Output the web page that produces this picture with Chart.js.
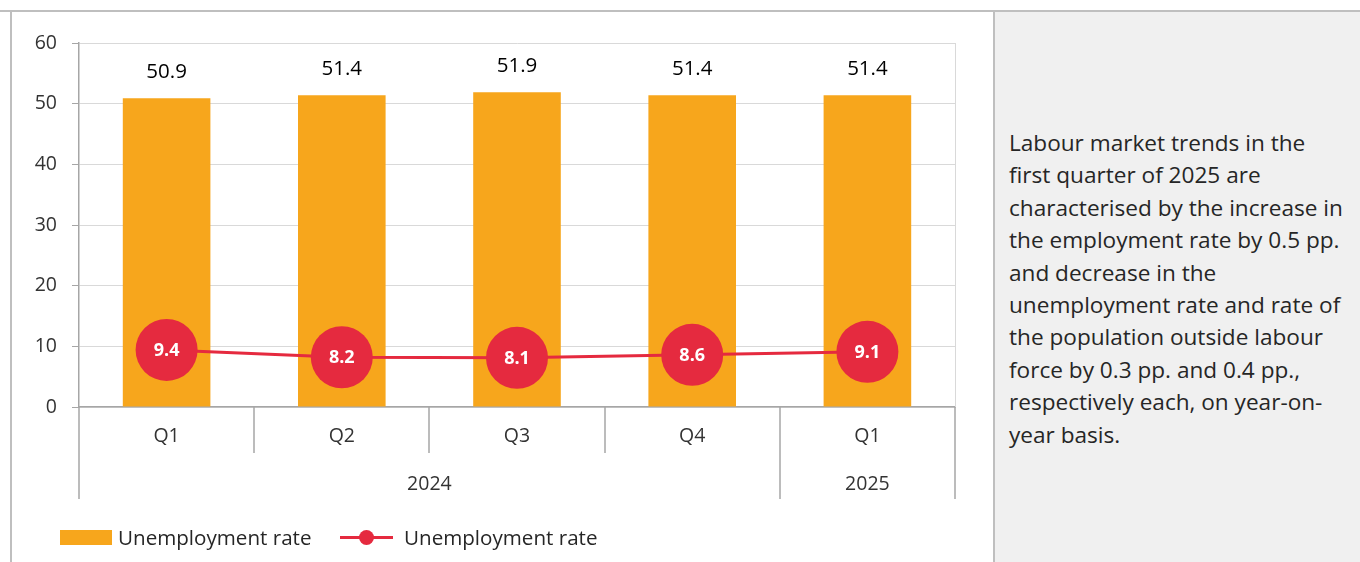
<!DOCTYPE html>
<html>
<head>
<meta charset="utf-8">
<script src="https://cdn.jsdelivr.net/npm/chart.js@4.4.1/dist/chart.umd.min.js"></script>
<style>
  html, body { margin: 0; padding: 0; background: #fff; }
  body { width: 1360px; height: 562px; position: relative; overflow: hidden; font-family: "Open Sans", sans-serif; font-weight: 400; }
  #topLine { position: absolute; left: 0; top: 10px; width: 1360px; height: 2px; background: #bfbfbf; }
  #leftLine { position: absolute; left: 10px; top: 10px; width: 2px; height: 552px; background: #bfbfbf; }
  #divLine { position: absolute; left: 993px; top: 10px; width: 2px; height: 552px; background: #bfbfbf; }
  #panel { position: absolute; left: 995px; top: 12px; width: 365px; height: 550px; background: #f0f0f0; }
  #note { position: absolute; left: 1009px; top: 127px; font-size: 22.6px; line-height: 32.4px; color: #262626; white-space: nowrap; }
  #wrap { position: absolute; left: 12px; top: 12px; width: 981px; height: 550px; }
  #legend { position: absolute; left: 0; top: 525px; height: 24px; font-size: 20.6px; color: #262626; }
  .item { position: absolute; top: 0; white-space: nowrap; line-height: 24px; }
  .sw { position: absolute; }
</style>
</head>
<body>
<div id="topLine"></div>
<div id="leftLine"></div>
<div id="panel"></div>
<div id="divLine"></div>
<div id="note">Labour market trends in the<br>first quarter of 2025 are<br>characterised by the increase in<br>the employment rate by 0.5 pp.<br>and decrease in the<br>unemployment rate and rate of<br>the population outside labour<br>force by 0.3 pp. and 0.4 pp.,<br>respectively each, on year-on-<br>year basis.</div>
<div id="wrap"><canvas id="myChart" width="981" height="550"></canvas></div>
<div id="legend"></div>
<script>
const quarters = ['Q1', 'Q2', 'Q3', 'Q4', 'Q1'];
const years = ['2024', '2024', '2024', '2024', '2025'];
const barValues = [50.9, 51.4, 51.9, 51.4, 51.4];
const lineValues = [9.4, 8.2, 8.1, 8.6, 9.1];
const yTicks = [0, 10, 20, 30, 40, 50, 60];
const seriesNames = ['Unemployment rate', 'Unemployment rate'];

const orange = '#F7A61C';
const red = '#E52A3F';
const axisGray = '#a6a6a6';
const font = '"Open Sans", sans-serif';

// values on bars and inside the circles
const valueLabels = {
    id: 'valueLabels',
    afterDatasetsDraw(chart) {
        const c = chart.ctx;
        c.save();
        c.textAlign = 'center';
        c.textBaseline = 'middle';
        chart.getDatasetMeta(1).data.forEach((el, i) => {
            c.font = '20.5px ' + font;
            c.fillStyle = '#000';
            c.fillText(barValues[i].toFixed(1), el.x, el.y - 26);
        });
        chart.getDatasetMeta(0).data.forEach((el, i) => {
            c.font = 'bold 18px ' + font;
            c.fillStyle = '#fff';
            c.fillText(lineValues[i].toFixed(1), el.x, el.y + 1);
        });
        c.restore();
    }
};

// two level category axis + plot border
const groupAxis = {
    id: 'groupAxis',
    afterDraw(chart) {
        const c = chart.ctx;
        const x = chart.scales.x;
        const a = chart.chartArea;
        const step = x.getPixelForValue(1) - x.getPixelForValue(0);
        c.save();
        c.strokeStyle = '#d9d9d9';
        c.lineWidth = 1;
        c.beginPath();
        c.moveTo(a.right + 0.5, a.top);
        c.lineTo(a.right + 0.5, a.bottom);
        c.stroke();
        c.strokeStyle = axisGray;
        c.lineWidth = 1.5;
        c.beginPath();
        for (let i = 0; i <= quarters.length; i++) {
            const px = Math.round(x.getPixelForValue(i) - step / 2);
            const yearEdge = i === 0 || i === quarters.length || years[i] !== years[i - 1];
            c.moveTo(px, a.bottom);
            c.lineTo(px, a.bottom + (yearEdge ? 92 : 46));
        }
        c.stroke();
        c.font = '19.5px ' + font;
        c.fillStyle = '#333';
        c.textAlign = 'center';
        c.textBaseline = 'middle';
        let start = 0;
        for (let i = 1; i <= years.length; i++) {
            if (i === years.length || years[i] !== years[start]) {
                const mid = (x.getPixelForValue(start) + x.getPixelForValue(i - 1)) / 2;
                c.fillText(years[start], mid, a.bottom + 77);
                start = i;
            }
        }
        c.restore();
    }
};

const ctx = document.getElementById('myChart').getContext('2d');
const myChart = new Chart(ctx, {
    data: {
        labels: quarters,
        datasets: [{
            type: 'line',
            label: seriesNames[1],
            data: lineValues,
            borderColor: red,
            backgroundColor: red,
            borderWidth: 3,
            pointRadius: 31,
            pointHoverRadius: 31,
            pointBackgroundColor: red,
            pointBorderWidth: 0,
            order: 0
        }, {
            type: 'bar',
            label: seriesNames[0],
            data: barValues,
            backgroundColor: orange,
            barPercentage: 0.5,
            categoryPercentage: 1.0,
            order: 1
        }]
    },
    options: {
        responsive: false,
        animation: false,
        layout: { padding: { left: 0, right: 38, top: 31, bottom: 0 } },
        plugins: { legend: { display: false }, tooltip: { enabled: false } },
        scales: {
            x: {
                offset: true,
                grid: { display: false },
                border: { color: axisGray, width: 1.5 },
                ticks: { font: { family: font, size: 19.5 }, color: '#333', padding: 10 },
                afterFit(s) { s.height = 155; }
            },
            y: {
                min: 0,
                max: 60,
                afterBuildTicks(s) { s.ticks = yTicks.map(v => ({ value: v })); },
                grid: { color: '#d9d9d9', tickLength: 7, tickColor: axisGray },
                border: { color: axisGray, width: 1.5 },
                ticks: { font: { family: font, size: 19.5 }, color: '#333', padding: 15 },
                afterFit(s) { s.width = 67; }
            }
        }
    },
    plugins: [valueLabels, groupAxis]
});

// legend built from the datasets
const legend = document.getElementById('legend');
const order = [1, 0];
let lx = 60;
order.forEach(i => {
    const ds = myChart.data.datasets[i];
    const item = document.createElement('div');
    item.className = 'item';
    item.style.left = lx + 'px';
    if (ds.type === 'bar') {
        item.innerHTML = '<span class="sw" style="left:0;top:5px;width:52px;height:15px;background:' + ds.backgroundColor + '"></span>';
    } else {
        item.innerHTML = '<span class="sw" style="left:0;top:11px;width:53px;height:3px;background:' + ds.borderColor + '"></span>' +
            '<span class="sw" style="left:19px;top:5px;width:15px;height:15px;border-radius:50%;background:' + ds.borderColor + '"></span>';
    }
    const t = document.createElement('span');
    t.style.marginLeft = (ds.type === 'bar' ? 58 : 64) + 'px';
    t.textContent = ds.label;
    item.appendChild(t);
    legend.appendChild(item);
    lx += 280;
});
</script>
</body>
</html>
